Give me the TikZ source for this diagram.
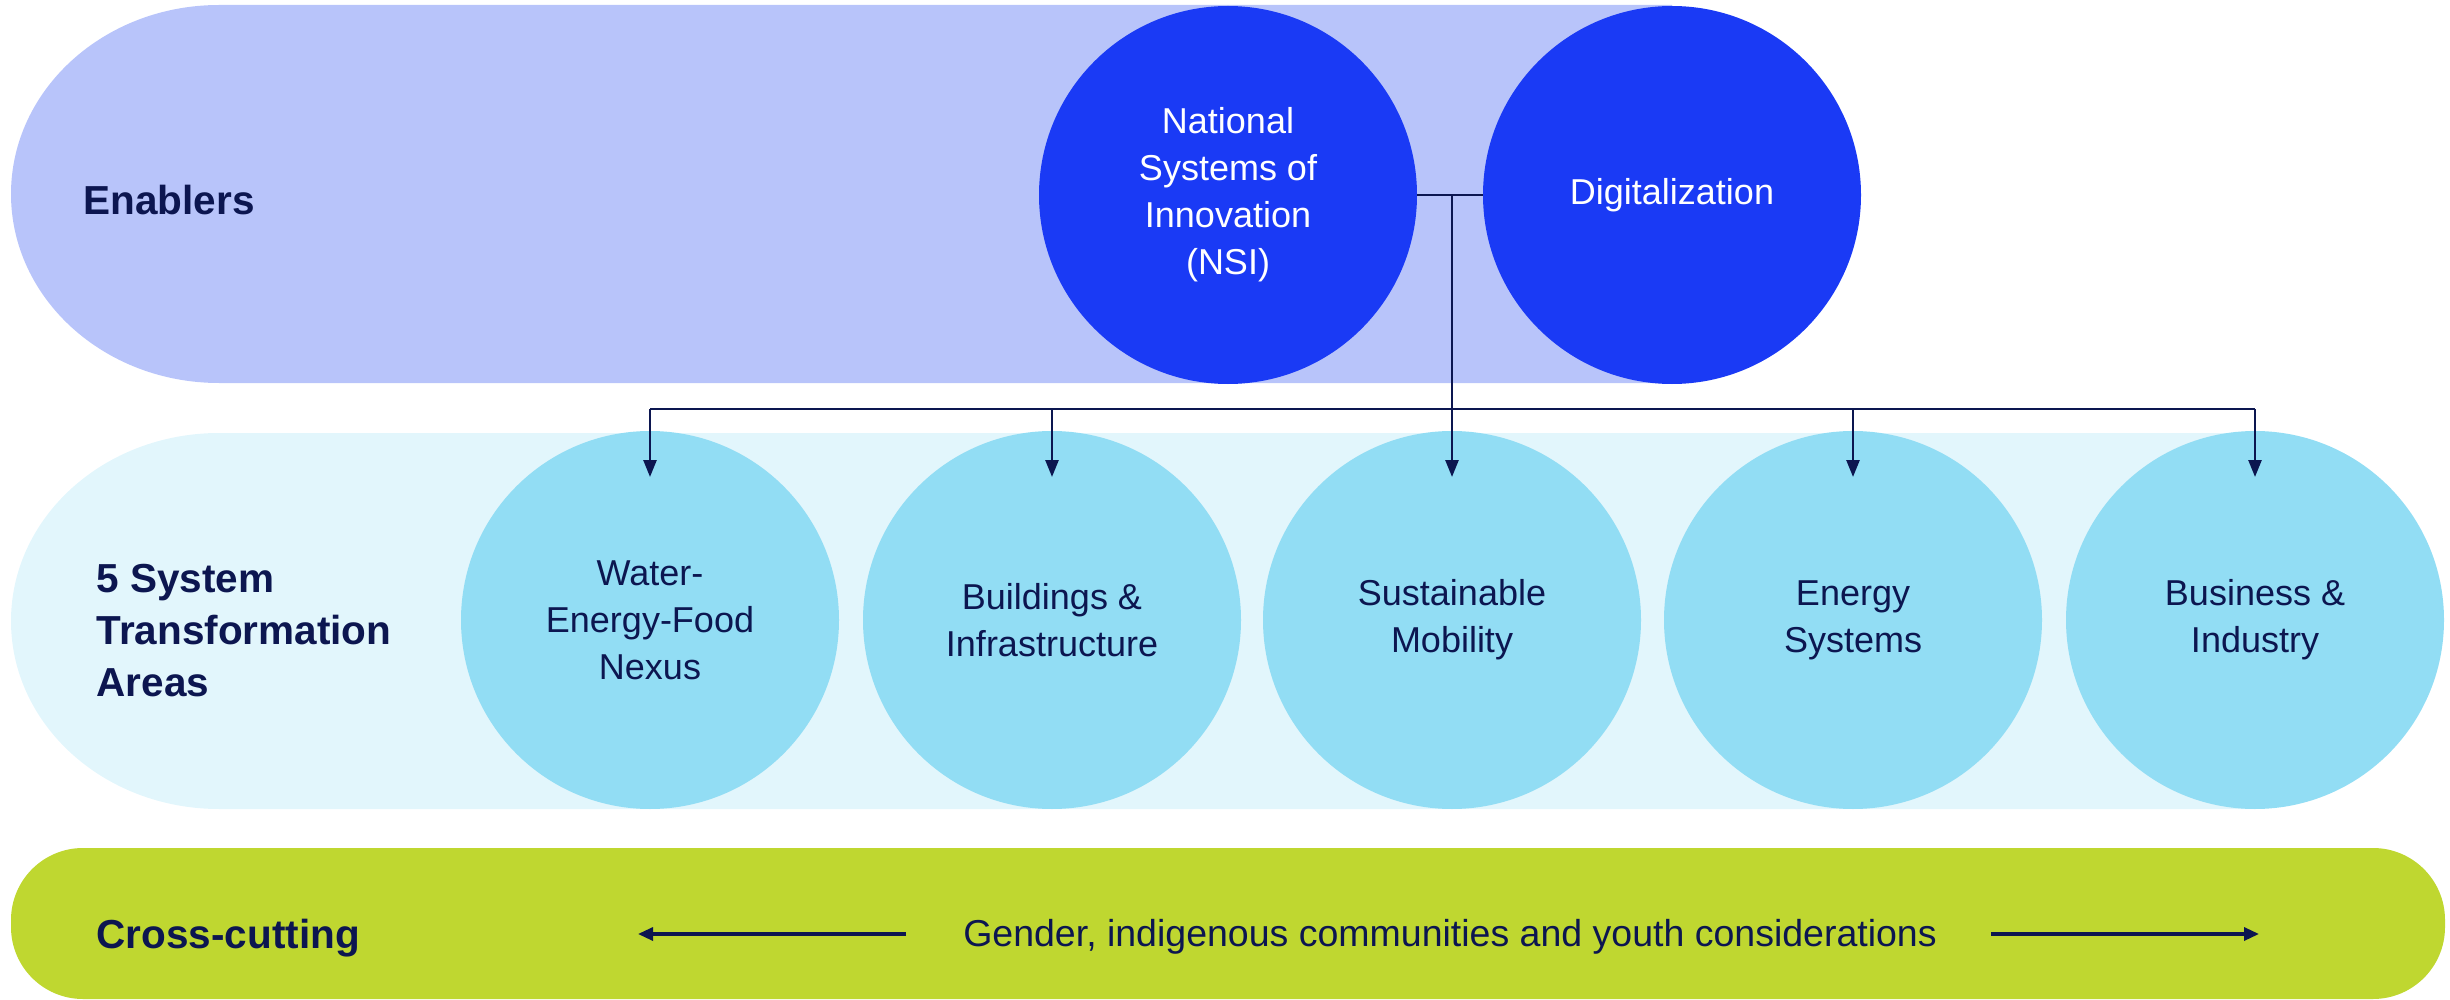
\documentclass[tikz,border=0pt]{standalone}
\usepackage{fontspec}
\setmainfont{Liberation Sans}
\usetikzlibrary{arrows.meta}
\definecolor{enband}{RGB}{184,196,250}
\definecolor{enfill}{RGB}{26,58,245}
\definecolor{stband}{RGB}{226,246,252}
\definecolor{stfill}{RGB}{146,221,244}
\definecolor{ccband}{RGB}{191,215,48}
\definecolor{navy}{RGB}{12,22,80}
\tikzset{
  bigcirc/.style={circle, minimum size=378pt, inner sep=0pt, align=center,
    font=\fontsize{36}{47}\selectfont},
  enc/.style={bigcirc, fill=enfill, text=white},
  stc/.style={bigcirc, fill=stfill, text=navy},
  rowlabel/.style={anchor=west, align=left, text=navy,
    font=\fontsize{40.5}{52}\selectfont\bfseries},
  conn/.style={draw=navy, line width=2.6pt},
  arr/.style={conn, -{Triangle[width=13pt,length=17pt]}},
  ccarr/.style={draw=navy, line width=3.2pt, -{Triangle[width=13pt,length=15pt]}}
}
\begin{document}
\begin{tikzpicture}[x=1pt,y=-1pt]
\useasboundingbox (0,0) rectangle (2450,1000);
% bands
\fill[enband] (1672,5) -- (219,5) arc[start angle=270, end angle=90, x radius=208, y radius=189] -- (1672,383) -- cycle;
\fill[stband] (2255,433) -- (219,433) arc[start angle=270, end angle=90, x radius=208, y radius=188] -- (2255,809) -- cycle;
\fill[ccband, rounded corners=72pt] (11,848) rectangle (2445,999);
% row labels
\node[rowlabel] (lenab) at (80,200) {Enablers};
\node[rowlabel] (lsta) at (93,631) {5 System\\Transformation\\Areas};
\node[rowlabel] (lcc) at (93,938) {Cross-cutting};
% enabler circles
\node[enc] (nsi) at (1228,195) {National\\Systems of\\Innovation\\(NSI)};
\node[enc] (dig) at (1672,195) {Digitalization};
% transformation circles
\node[stc] (wef) at (650,620) {Water-\\Energy-Food\\Nexus};
\node[stc] (bui) at (1052,620) {Buildings \&\\Infrastructure};
\node[stc] (mob) at (1452,620) {Sustainable\\Mobility};
\node[stc] (ene) at (1853,620) {Energy\\Systems};
\node[stc] (bus) at (2255,620) {Business \&\\Industry};
% connectors
\coordinate (j) at (1452,195);
\coordinate (barL) at (650,409);
\coordinate (barR) at (2255,409);
\draw[conn] (nsi.east) -- (dig.west);
\draw[conn] (barL) -- (barR);
\coordinate (tw) at (650,477);
\coordinate (tb) at (1052,477);
\coordinate (tm) at (1452,477);
\coordinate (te) at (1853,477);
\coordinate (tu) at (2255,477);
\draw[arr] (j) -- (tm);
\draw[arr] (barL) -- (tw);
\draw[arr] (barL -| bui) -- (tb);
\draw[arr] (barL -| ene) -- (te);
\draw[arr] (barR) -- (tu);
% cross-cutting
\node[text=navy, font=\fontsize{37.5}{46}\selectfont] (gen) at (1450,937) {Gender, indigenous communities and youth considerations};
\coordinate (ccls) at (906,934);
\coordinate (ccl) at (638,934);
\coordinate (ccrs) at (1991,934);
\coordinate (ccr) at (2259,934);
\draw[ccarr] (ccls) -- (ccl);
\draw[ccarr] (ccrs) -- (ccr);
\end{tikzpicture}
\end{document}
